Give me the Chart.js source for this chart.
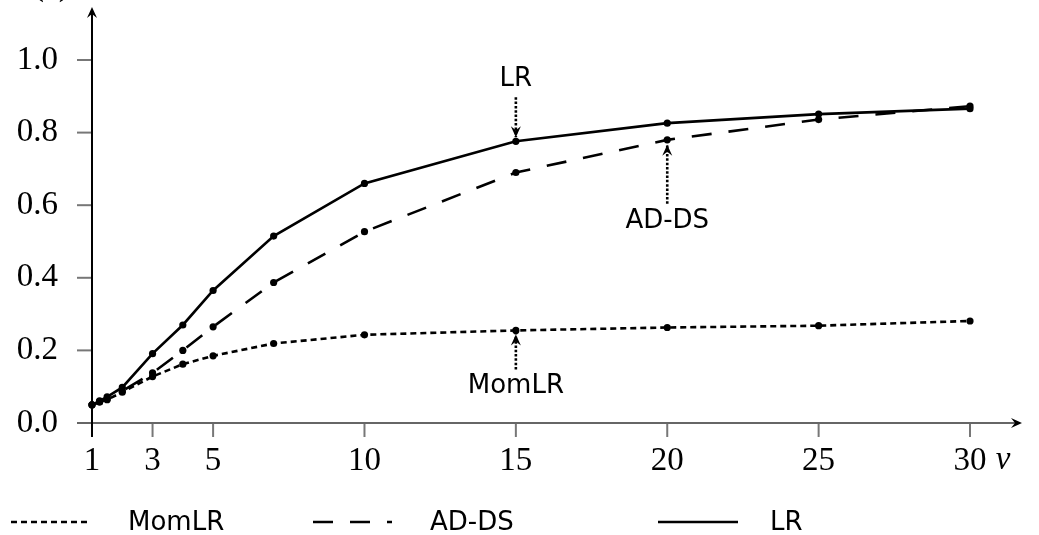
<!DOCTYPE html>
<html>
<head>
<meta charset="utf-8">
<script src="https://cdn.jsdelivr.net/npm/chart.js@4.4.1/dist/chart.umd.min.js"></script>
<style>
  html, body { margin: 0; padding: 0; background: #fff; }
</style>
</head>
<body>
<canvas id="chart" width="1039" height="535"></canvas>
<script>
// values
const vValues = [1, 1.25, 1.5, 2, 3, 4, 5, 7, 10, 15, 20, 25, 30];
const momLR = [0.05, 0.058, 0.064, 0.085, 0.128, 0.162, 0.185, 0.219, 0.243, 0.255, 0.263, 0.268, 0.281];
const adDS  = [0.05, 0.058, 0.066, 0.088, 0.138, 0.200, 0.265, 0.387, 0.527, 0.690, 0.780, 0.836, 0.873];
const lr    = [0.05, 0.061, 0.072, 0.098, 0.191, 0.270, 0.365, 0.515, 0.660, 0.776, 0.826, 0.851, 0.866];

const seriesNames = ["MomLR", "AD-DS", "LR"];
const xTicks = [1, 3, 5, 10, 15, 20, 25, 30];
const yTicks = [0, 0.2, 0.4, 0.6, 0.8, 1.0];

const tickFont = { family: "Liberation Serif", size: 33 };
const sansFont = "26px 'DejaVu Sans'";

function toPoints(ys){
    return vValues.map((v, i) => ({ x: v, y: ys[i] }));
}

function makeSet(label, ys, dash){
    return {
        label: label,
        data: toPoints(ys),
        borderColor: "#000",
        backgroundColor: "#000",
        borderWidth: 2.6,
        borderDash: dash,
        pointRadius: 3.6,
        pointBackgroundColor: "#000",
        pointBorderWidth: 0,
        tension: 0,
        fill: false
    };
}

function arrowHead(ctx, x, y, dir){
    // dir = 1 points down, -1 points up
    ctx.beginPath();
    ctx.moveTo(x, y);
    ctx.lineTo(x - 5, y - dir * 11);
    ctx.lineTo(x, y - dir * 7);
    ctx.lineTo(x + 5, y - dir * 11);
    ctx.closePath();
    ctx.fill();
}

function dottedArrow(ctx, x, yFrom, yTo){
    ctx.save();
    ctx.strokeStyle = "#000";
    ctx.fillStyle = "#000";
    ctx.lineWidth = 2.6;
    ctx.setLineDash([2.5, 1.8]);
    ctx.beginPath();
    ctx.moveTo(x, yFrom);
    ctx.lineTo(x, yTo);
    ctx.stroke();
    ctx.setLineDash([]);
    arrowHead(ctx, x, yTo, yTo > yFrom ? 1 : -1);
    ctx.restore();
}

const axesPlugin = {
    id: "axesPlugin",
    beforeDatasetsDraw(chart){
        const ctx = chart.ctx;
        const area = chart.chartArea;
        const xs = chart.scales.x, ys = chart.scales.y;
        const x0 = xs.getPixelForValue(1);
        const y0 = ys.getPixelForValue(0);
        ctx.save();
        // tick marks
        ctx.strokeStyle = "#777";
        ctx.lineWidth = 2;
        xTicks.forEach(t => {
            const px = xs.getPixelForValue(t);
            ctx.beginPath();
            ctx.moveTo(px, y0);
            ctx.lineTo(px, y0 + 14);
            ctx.stroke();
        });
        yTicks.forEach(t => {
            const py = ys.getPixelForValue(t);
            ctx.beginPath();
            ctx.moveTo(x0, py);
            ctx.lineTo(x0 - 15, py);
            ctx.stroke();
        });
        // x axis
        ctx.strokeStyle = "#666";
        ctx.lineWidth = 2.2;
        ctx.beginPath();
        ctx.moveTo(area.left, y0);
        ctx.lineTo(area.right - 6, y0);
        ctx.stroke();
        ctx.fillStyle = "#000";
        ctx.beginPath();
        ctx.moveTo(area.right, y0);
        ctx.lineTo(area.right - 11, y0 - 5);
        ctx.lineTo(area.right - 7, y0);
        ctx.lineTo(area.right - 11, y0 + 5);
        ctx.closePath();
        ctx.fill();
        // y axis
        ctx.strokeStyle = "#000";
        ctx.lineWidth = 2;
        ctx.beginPath();
        ctx.moveTo(x0, area.bottom);
        ctx.lineTo(x0, area.top + 6);
        ctx.stroke();
        arrowHead(ctx, x0, area.top, -1);
        // axis name
        ctx.font = "italic 33px 'Liberation Serif'";
        ctx.textAlign = "center";
        ctx.textBaseline = "alphabetic";
        ctx.fillText("v", 1003, 469);
        ctx.font = "33px 'Liberation Serif'";
        ctx.textAlign = "left";
        ctx.fillText("(a)", 33, -5);
        ctx.restore();
    },
    afterDraw(chart){
        const ctx = chart.ctx;
        const xs = chart.scales.x, ys = chart.scales.y;
        const i15 = vValues.indexOf(15), i20 = vValues.indexOf(20);
        ctx.save();
        ctx.font = sansFont;
        ctx.fillStyle = "#000";
        ctx.textAlign = "center";
        ctx.textBaseline = "middle";

        // LR label above its point at v = 15
        let px = xs.getPixelForValue(15);
        let py = ys.getPixelForValue(lr[i15]);
        ctx.fillText(seriesNames[2], px, py - 62);
        dottedArrow(ctx, px, py - 44, py - 4);

        // AD-DS label below its point at v = 20
        px = xs.getPixelForValue(20);
        py = ys.getPixelForValue(adDS[i20]);
        ctx.fillText(seriesNames[1], px, py + 81);
        dottedArrow(ctx, px, py + 64, py + 5);

        // MomLR label below its point at v = 15
        px = xs.getPixelForValue(15);
        py = ys.getPixelForValue(momLR[i15]);
        ctx.fillText(seriesNames[0], px, py + 56);
        dottedArrow(ctx, px, py + 39, py + 4);

        // legend along the bottom
        const ly = 522;
        const entries = [
            { x: 11, len: 80, tx: 128, ds: chart.data.datasets[0] },
            { x: 313, len: 79, tx: 430, ds: chart.data.datasets[1] },
            { x: 658, len: 80, tx: 770, ds: chart.data.datasets[2] }
        ];
        entries.forEach(e => {
            ctx.strokeStyle = "#000";
            ctx.lineWidth = 2.6;
            ctx.setLineDash(e.ds.borderDash || []);
            ctx.beginPath();
            ctx.moveTo(e.x, ly);
            ctx.lineTo(e.x + e.len, ly);
            ctx.stroke();
            ctx.setLineDash([]);
            ctx.textAlign = "left";
            ctx.fillText(e.ds.label, e.tx, ly + 1);
        });
        ctx.restore();
    }
};

new Chart(document.getElementById("chart"), {
    type: "line",
    data: {
        datasets: [
            makeSet(seriesNames[0], momLR, [6, 4]),
            makeSet(seriesNames[1], adDS, [20, 17]),
            makeSet(seriesNames[2], lr, [])
        ]
    },
    options: {
        responsive: false,
        animation: false,
        layout: { padding: { top: 7, right: 17, left: 0, bottom: 0 } },
        plugins: {
            legend: { display: false },
            tooltip: { enabled: false }
        },
        scales: {
            x: {
                type: "linear",
                min: 0.5046,
                max: 31.7175,
                grid: { display: false },
                border: { display: false },
                afterBuildTicks: s => { s.ticks = xTicks.map(v => ({ value: v })); },
                afterFit: s => { s.height = 98; s.paddingLeft = 0; s.paddingRight = 0; },
                ticks: {
                    font: tickFont,
                    color: "#000",
                    padding: -3,
                    maxRotation: 0,
                    autoSkip: false,
                    callback: v => String(v)
                }
            },
            y: {
                type: "linear",
                min: -0.0386,
                max: 1.146,
                grid: { display: false },
                border: { display: false },
                afterBuildTicks: s => { s.ticks = yTicks.map(v => ({ value: v })); },
                afterFit: s => { s.width = 77; s.paddingTop = 0; s.paddingBottom = 0; },
                ticks: {
                    font: tickFont,
                    color: "#000",
                    padding: 11,
                    autoSkip: false,
                    callback: v => v.toFixed(1)
                }
            }
        }
    },
    plugins: [axesPlugin]
});
</script>
</body>
</html>
